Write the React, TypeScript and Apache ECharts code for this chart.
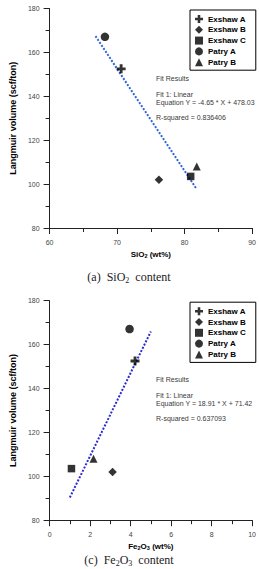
import { useEffect, useRef } from 'react';
import * as echarts from 'echarts';

// Samples and measured values
const sampleNames = ['Exshaw A', 'Exshaw B', 'Exshaw C', 'Patry A', 'Patry B'];
const langmuirVolume = [152.5, 102, 103.5, 167.1, 108]; // scf/ton
const sio2Content = [70.6, 76.2, 80.9, 68.2, 81.8]; // wt%
const fe2o3Content = [4.22, 3.11, 1.08, 3.95, 2.17]; // wt%

// Linear fit results
const sio2Fit = { slope: -4.65, intercept: 478.03, rSquared: '0.836406', from: 66.8, to: 81.8 };
const fe2o3Fit = { slope: 18.91, intercept: 71.42, rSquared: '0.637093', from: 1.0, to: 5.0 };

// Axis ranges
const yRange = { min: 80, max: 180, interval: 20 };
const sio2Range = { min: 60, max: 90, interval: 10 };
const fe2o3Range = { min: 0, max: 10, interval: 2 };

const PLUS = 'path://M34,0H66V34H100V66H66V100H34V66H0V34H34Z';
const sampleSymbols = [PLUS, 'diamond', 'rect', 'circle', 'triangle'];
const sampleSymbolSizes = [9, 8.5, 7.5, 8.5, 8];

const SANS = 'Liberation Sans, Arial, sans-serif';
const SERIF = 'Liberation Serif, Times New Roman, serif';
const PANEL_OFFSET = 292.2;

function fitText(fit: typeof sio2Fit) {
  const sign = fit.intercept < 0 ? '-' : '+';
  return [
    'Fit Results',
    '',
    'Fit 1: Linear',
    `Equation Y = ${fit.slope} * X ${sign} ${Math.abs(fit.intercept)}`,
    '',
    `R-squared = ${fit.rSquared}`,
  ].join('\n');
}

function fitLine(fit: typeof sio2Fit) {
  return [fit.from, fit.to].map((x) => [x, fit.slope * x + fit.intercept]);
}

function xAxisFor(range: typeof sio2Range, gridIndex: number, name: string) {
  return {
    type: 'value',
    gridIndex,
    min: range.min,
    max: range.max,
    interval: range.interval,
    name,
    nameLocation: 'middle',
    nameGap: 21,
    nameTextStyle: {
      fontFamily: SANS,
      fontSize: 8,
      fontWeight: 'bold',
      color: '#000',
      rich: {
        b: { fontFamily: SANS, fontSize: 8, fontWeight: 'bold', color: '#000', lineHeight: 10 },
        s: { fontFamily: SANS, fontSize: 5.5, fontWeight: 'bold', color: '#000', lineHeight: 5, verticalAlign: 'bottom' },
      },
    },
    axisLine: { show: true, lineStyle: { color: '#222', width: 1 } },
    axisTick: { show: true, inside: false, length: 6, lineStyle: { color: '#222', width: 1 } },
    minorTick: { show: true, splitNumber: 2, length: 4, lineStyle: { color: '#222', width: 1 } },
    axisLabel: { fontFamily: SANS, fontSize: 7, color: '#444', margin: 11 },
    splitLine: { show: false },
  };
}

function yAxisFor(gridIndex: number) {
  return {
    type: 'value',
    gridIndex,
    min: yRange.min,
    max: yRange.max,
    interval: yRange.interval,
    name: 'Langmuir volume (scf/ton)',
    nameLocation: 'middle',
    nameGap: 28,
    nameTextStyle: { fontFamily: SANS, fontSize: 9, fontWeight: 'bold', color: '#000' },
    axisLine: { show: true, lineStyle: { color: '#222', width: 1 } },
    axisTick: { show: true, inside: false, length: 6, lineStyle: { color: '#222', width: 1 } },
    minorTick: { show: true, splitNumber: 2, length: 4, lineStyle: { color: '#222', width: 1 } },
    axisLabel: { fontFamily: SANS, fontSize: 7, color: '#444', margin: 10 },
    splitLine: { show: false },
  };
}

function panelSeries(xValues: number[], fit: typeof sio2Fit, lineColor: string, index: number) {
  const line = {
    type: 'line',
    xAxisIndex: index,
    yAxisIndex: index,
    data: fitLine(fit),
    symbol: 'none',
    z: 2,
    lineStyle: { color: lineColor, width: 2, type: [2, 1.6] },
    silent: true,
  };
  const points = sampleNames.map((name, i) => ({
    type: 'scatter',
    name,
    xAxisIndex: index,
    yAxisIndex: index,
    symbol: sampleSymbols[i],
    symbolSize: sampleSymbolSizes[i],
    itemStyle: { color: '#000' },
    z: 3,
    data: [[xValues[i], langmuirVolume[i]]],
  }));
  return [line, ...points];
}

function legendFor(top: number) {
  return {
    orient: 'vertical',
    left: 190,
    top,
    data: sampleNames,
    selectedMode: false,
    itemWidth: 8,
    itemHeight: 8,
    itemGap: 2.8,
    padding: [5, 10, 4, 5],
    borderColor: '#000',
    borderWidth: 1,
    textStyle: { fontFamily: SANS, fontSize: 8, fontWeight: 'bold', color: '#000', lineHeight: 8 },
  };
}

function fitGraphic(top: number, fit: typeof sio2Fit) {
  return {
    type: 'text',
    left: 156,
    top,
    style: {
      text: fitText(fit),
      fontFamily: SANS,
      fontSize: 7,
      lineHeight: 7.8,
      fill: '#3a3a3a',
    },
  };
}

function captionGraphic(y: number, text: string) {
  return {
    type: 'text',
    x: 129,
    y,
    style: {
      text,
      align: 'center',
      verticalAlign: 'middle',
      fontFamily: SERIF,
      fontSize: 12,
      fill: '#222',
      rich: {
        n: { fontFamily: SERIF, fontSize: 12, lineHeight: 14, fill: '#222' },
        s: { fontFamily: SERIF, fontSize: 8, lineHeight: 6, verticalAlign: 'bottom', fill: '#222' },
      },
    },
  };
}

export default function App() {
  const ref = useRef<HTMLDivElement>(null);

  useEffect(() => {
    if (!ref.current) return;
    const chart = echarts.init(ref.current, undefined, { renderer: 'svg' });
    chart.setOption({
      animation: false,
      backgroundColor: '#fff',
      grid: [
        { left: 35, right: 5.5, top: 8.5, height: 219.5 },
        { left: 35, right: 5.5, top: 8.5 + PANEL_OFFSET, height: 219.5 },
      ],
      xAxis: [
        xAxisFor(sio2Range, 0, '{b|SiO}{s|2}{b| (wt%)}'),
        xAxisFor(fe2o3Range, 1, '{b|Fe}{s|2}{b|O}{s|3}{b| (wt%)}'),
      ],
      yAxis: [yAxisFor(0), yAxisFor(1)],
      legend: [legendFor(10), legendFor(10 + PANEL_OFFSET)],
      series: [
        ...panelSeries(sio2Content, sio2Fit, '#2f63d8', 0),
        ...panelSeries(fe2o3Content, fe2o3Fit, '#2a2ad2', 1),
      ],
      graphic: [
        fitGraphic(75.1, sio2Fit),
        fitGraphic(375.8, fe2o3Fit),
        captionGraphic(277, '{n|(a)  SiO}{s|2}{n|  content}'),
        captionGraphic(560, '{n|(c)  Fe}{s|2}{n|O}{s|3}{n|  content}'),
      ],
    });
    return () => chart.dispose();
  }, []);

  return (
    <div
      ref={ref}
      style={{ position: 'absolute', left: 0, top: 0, width: 259, height: 569 }}
    />
  );
}
